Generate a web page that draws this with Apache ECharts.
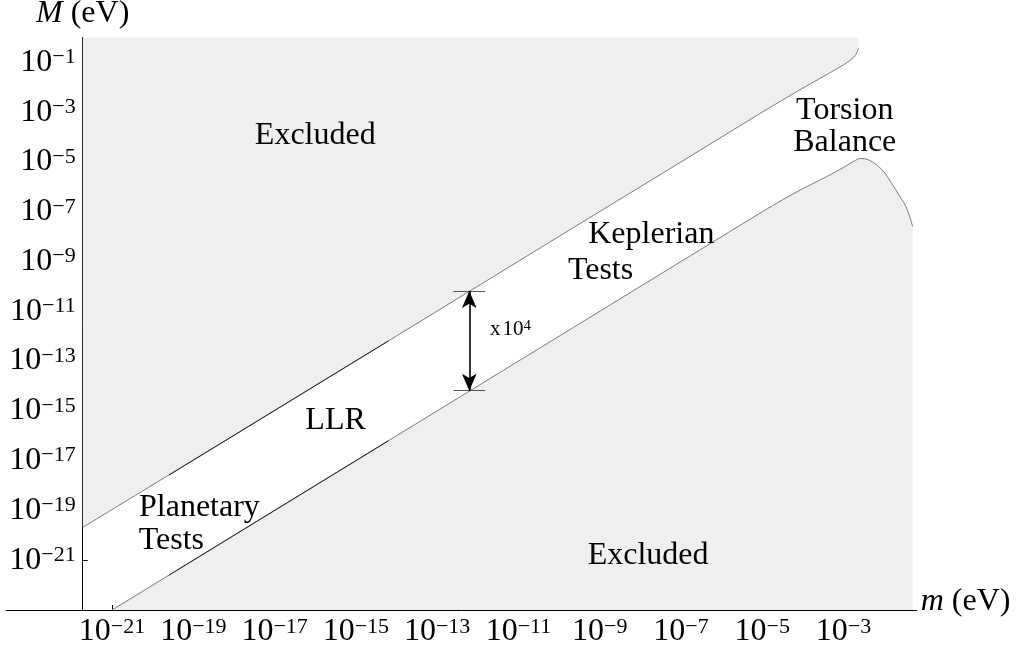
<!DOCTYPE html>
<html>
<head>
<meta charset="utf-8">
<script src="https://cdn.jsdelivr.net/npm/echarts@6/dist/echarts.min.js"></script>
<style>
html, body { margin: 0; padding: 0; background: #fff; }
#chart { width: 1030px; height: 654px; }
</style>
</head>
<body>
<div id="chart"></div>
<script>
// all values are log10 of the quantity in eV
const xTicks = [-21, -19, -17, -15, -13, -11, -9, -7, -5, -3];
const yTicks = [-21, -19, -17, -15, -13, -11, -9, -7, -5, -3, -1];

// upper boundary of the allowed band (excluded above)
const upperBound = [
    [-21.72, -19.68], [-18, -15.98], [-14, -11.99], [-10, -7.99], [-7, -5.0],
    [-5, -3.0], [-4.0, -2.03], [-3.5, -1.57], [-3.2, -1.29], [-3.0, -1.1],
    [-2.85, -0.93], [-2.75, -0.79], [-2.69, -0.66], [-2.65, -0.52], [-2.63, -0.42]
];
// lower boundary of the allowed band (excluded below)
const lowerBound = [
    [-21, -23], [-18, -20], [-14, -16], [-10, -12], [-7, -9], [-5, -7.0],
    [-4.5, -6.52], [-4.0, -6.07], [-3.5, -5.66], [-3.2, -5.4], [-3.0, -5.22],
    [-2.84, -5.06], [-2.7, -4.93], [-2.59, -4.86], [-2.45, -4.88], [-2.33, -4.96],
    [-2.2, -5.1], [-2.08, -5.27], [-1.96, -5.5], [-1.84, -5.8], [-1.72, -6.1],
    [-1.61, -6.4], [-1.52, -6.62], [-1.45, -6.85], [-1.38, -7.15], [-1.3, -7.6]
];
// darker LLR segments of both boundaries
const llrUpper = [[-19.6, -17.58], [-14.2, -12.19]];
const llrLower = [[-19.6, -21.6], [-14.2, -16.2]];

const regionNames = ['Excluded', 'Excluded', 'Torsion\nBalance', 'Keplerian', 'Tests', 'LLR', 'Planetary', 'Tests'];
const regionX = [-16.0, -7.81, -2.97, -7.73, -8.98, -15.5, -18.85, -19.54];
const regionY = [-3.93, -20.83, -3.59, -7.9, -9.38, -15.4, -18.88, -20.22];

// the x10^4 gap between the two bounds
const gapX = -12.21;
const gapTop = -10.18;
const gapBottom = -14.19;
const gapCapHalf = 0.39;
const gapLabelPos = [-11.7, -11.75];

const serif = "'Liberation Serif', 'DejaVu Serif', serif";
const grayFill = '#efefef';

function powLabel(v) {
    return '{b|10}{s|' + String(v).replace('-', '\u2212') + '}';
}
const powRich = {
    b: { fontFamily: serif, fontSize: 32, lineHeight: 32, color: '#000' },
    s: { fontFamily: serif, fontSize: 22, lineHeight: 22, verticalAlign: 'top', color: '#000' }
};

let chartDom = document.getElementById('chart');
let myChart = echarts.init(chartDom, null, { renderer: 'canvas' });

let regionData = regionNames.map(function (n, i) {
    return { name: n, value: [regionX[i], regionY[i]] };
});

let option = {
    animation: false,
    backgroundColor: '#fff',
    grid: {
        left: 6, right: 113.3, top: 37.5, bottom: 44,
        containLabel: false,
        outerBoundsMode: 'none'
    },
    xAxis: {
        type: 'value',
        min: -23.61,
        max: -1.2,
        name: '{i|m} (eV)',
        nameLocation: 'end',
        nameGap: 4,
        nameTextStyle: {
            fontFamily: serif, fontSize: 32, color: '#000',
            padding: [0, 0, 16, 0],
            rich: {
                i: { fontFamily: serif, fontSize: 32, fontStyle: 'italic', color: '#000' }
            }
        },
        axisLine: { onZero: false, lineStyle: { color: '#000', width: 1 } },
        axisTick: { inside: true, length: 5, customValues: xTicks, lineStyle: { color: '#000' } },
        axisLabel: {
            customValues: xTicks,
            margin: 6,
            formatter: powLabel,
            rich: powRich
        },
        splitLine: { show: false }
    },
    yAxis: {
        type: 'value',
        min: -23,
        max: 0,
        offset: -76.7,
        name: '{i|M} (eV)',
        nameLocation: 'end',
        nameGap: 8,
        nameTextStyle: {
            fontFamily: serif, fontSize: 32, color: '#000',
            rich: {
                i: { fontFamily: serif, fontSize: 32, fontStyle: 'italic', color: '#000' }
            }
        },
        axisLine: { onZero: false, lineStyle: { color: '#000', width: 1 } },
        axisTick: { inside: true, length: 5, customValues: yTicks, lineStyle: { color: '#000' } },
        axisLabel: {
            customValues: yTicks,
            margin: 7,
            formatter: powLabel,
            rich: powRich
        },
        splitLine: { show: false }
    },
    series: [
        {
            type: 'line',
            data: upperBound,
            showSymbol: false,
            smooth: 0.3,
            lineStyle: { color: '#7a7a7a', width: 1 },
            areaStyle: { color: grayFill, opacity: 1, origin: 'end' },
            z: 2
        },
        {
            type: 'line',
            data: lowerBound,
            showSymbol: false,
            smooth: 0.3,
            lineStyle: { color: '#7a7a7a', width: 1 },
            areaStyle: { color: grayFill, opacity: 1, origin: 'start' },
            z: 2
        },
        {
            type: 'line',
            data: llrUpper,
            showSymbol: false,
            lineStyle: { color: '#222', width: 1 },
            z: 3
        },
        {
            type: 'line',
            data: llrLower,
            showSymbol: false,
            lineStyle: { color: '#222', width: 1 },
            z: 3
        },
        {
            type: 'scatter',
            data: regionData,
            symbolSize: 0,
            silent: true,
            itemStyle: { opacity: 1 },
            z: 5,
            label: {
                show: true,
                position: 'inside',
                formatter: '{b}',
                fontFamily: serif,
                fontSize: 32,
                lineHeight: 32,
                color: '#000',
                opacity: 1,
                align: 'center'
            },
            markLine: {
                silent: true,
                animation: false,
                label: { show: false },
                symbol: ['none', 'none'],
                lineStyle: { color: '#555', width: 1.2, type: 'solid' },
                data: [
                    [{ coord: [gapX - gapCapHalf, gapTop] }, { coord: [gapX + gapCapHalf, gapTop] }],
                    [{ coord: [gapX - gapCapHalf, gapBottom] }, { coord: [gapX + gapCapHalf, gapBottom] }]
                ]
            }
        },
        {
            type: 'line',
            data: [],
            silent: true,
            z: 6,
            markLine: {
                silent: true,
                animation: false,
                label: { show: false },
                symbol: ['arrow', 'arrow'],
                symbolSize: [11, 17],
                lineStyle: { color: '#000', width: 1.6, type: 'solid' },
                data: [
                    [{ coord: [gapX, gapTop] }, { coord: [gapX, gapBottom] }]
                ]
            }
        },
        {
            type: 'scatter',
            data: [{ value: gapLabelPos }],
            symbolSize: 0,
            silent: true,
            itemStyle: { opacity: 1 },
            z: 5,
            label: {
                show: true,
                position: 'right',
                distance: 0,
                opacity: 1,
                formatter: '{a|x}{b|10}{s|4}',
                rich: {
                    a: { fontFamily: serif, fontSize: 21, lineHeight: 22, color: '#000', padding: [0, 2, 0, 0] },
                    b: { fontFamily: serif, fontSize: 21, lineHeight: 22, color: '#000' },
                    s: { fontFamily: serif, fontSize: 15, lineHeight: 14, verticalAlign: 'top', color: '#000' }
                }
            }
        }
    ]
};

option && myChart.setOption(option);
</script>
</body>
</html>
